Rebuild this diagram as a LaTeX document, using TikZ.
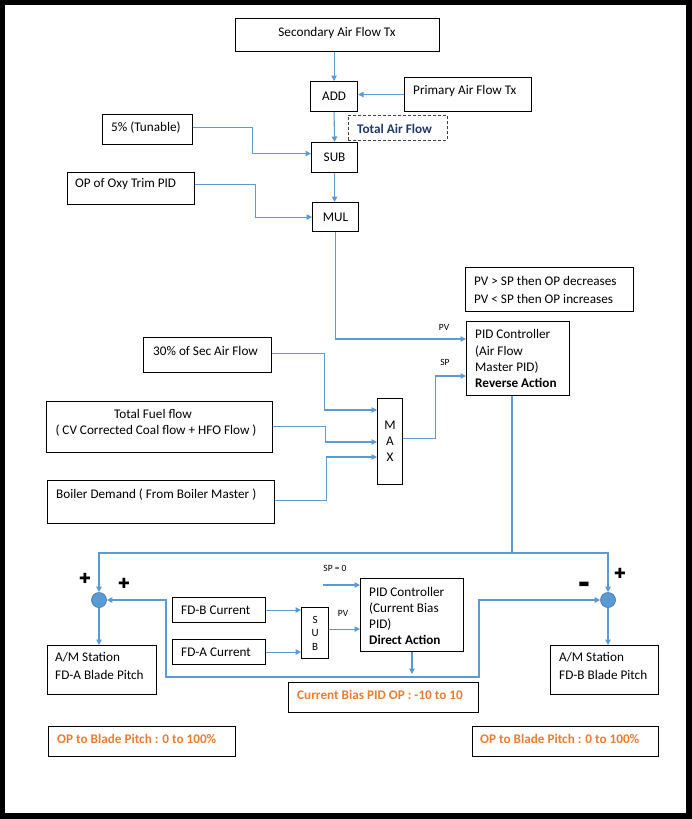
\documentclass[tikz,border=0pt]{standalone}
\usepackage{fontspec}
\setmainfont{Carlito}
\newfontfamily\symfont{DejaVu Sans}
\usetikzlibrary{arrows.meta,calc}
\definecolor{flow}{RGB}{91,155,213}
\definecolor{flowdark}{RGB}{65,113,156}
\definecolor{orng}{RGB}{237,125,49}
\definecolor{navy}{RGB}{32,56,100}
\begin{document}
\begin{tikzpicture}[x=1pt,y=-1pt,
  box/.style={draw=black, line width=1.1pt, rectangle, inner sep=0pt, anchor=north west, font=\fontsize{13.2}{16}\selectfont},
  txt/.style={inner sep=0pt, font=\fontsize{13.2}{16}\selectfont, anchor=base west},
  btxt/.style={txt, font=\fontsize{13.2}{16}\selectfont\bfseries},
  otxt/.style={btxt, text=orng},
  small/.style={inner sep=0pt, font=\fontsize{9.5}{10}\selectfont},
  tip/.tip={Triangle[length=5.5pt,width=5.5pt]},
  wire/.style={draw=flow, line width=1.1pt},
  arr/.style={wire, -tip},
  sumj/.style={circle, fill=flow, draw=flowdark, line width=0.6pt, minimum size=15pt, inner sep=0pt},
  sign/.style={inner sep=0pt, font=\symfont\fontsize{14}{14}\selectfont},
]
% frame
\fill[black] (0,0) rectangle (692,819);
\fill[white] (5,5) rectangle (686,813);
\useasboundingbox (0,0) rectangle (692,819);

% ---------- top chain ----------
\node[box, minimum width=204pt, minimum height=33pt] (sec) at (235,18) {};
\node[txt, anchor=base] (sec-t) at (337,36) {Secondary Air Flow Tx};
\node[box, minimum width=47pt, minimum height=30pt] (add) at (310,81) {ADD};
\node[box, minimum width=127pt, minimum height=34pt] (pri) at (404,77) {};
\node[txt] (pri-t) at (413,94.5) {Primary Air Flow Tx};
\node[box, draw=black!75, line width=0.9pt, dash pattern=on 3pt off 2pt, minimum width=99pt, minimum height=25pt] (tot) at (348,115) {};
\node[btxt, text=navy] (tot-t) at (357,133.5) {Total Air Flow};
\node[box, minimum width=90pt, minimum height=30pt] (five) at (102,114) {};
\node[txt] (five-t) at (111,131.5) {5\% (Tunable)};
\node[box, minimum width=46pt, minimum height=30pt] (sub) at (311,142) {SUB};
\node[box, minimum width=127pt, minimum height=32pt] (oxy) at (67,172) {};
\node[txt] (oxy-t) at (75,187.5) {OP of Oxy Trim PID};
\node[box, minimum width=46pt, minimum height=29pt] (mul) at (312,202) {MUL};

% ---------- air flow master PID ----------
\node[box, minimum width=168pt, minimum height=44pt] (note) at (465,267) {};
\node[txt] (note-t1) at (474,285.5) {PV > SP then OP decreases};
\node[txt] (note-t2) at (474,303.5) {PV < SP then OP increases};
\node[box, minimum width=103pt, minimum height=74pt] (pidA) at (466,321) {};
\node[txt] (pidA-t1) at (475,338) {PID Controller};
\node[txt] (pidA-t2) at (475,355) {(Air Flow};
\node[txt] (pidA-t3) at (475,371) {Master PID)};
\node[btxt] (pidA-t4) at (475,387) {Reverse Action};
\node[small] (pvA) at (444,327) {PV};
\node[small] (spA) at (445,362) {SP};
\coordinate (pvin) at ($(pidA.north west)+(0,18)$);
\coordinate (spin) at ($(pidA.north west)+(0,55)$);

% ---------- MAX selector ----------
\node[box, minimum width=128pt, minimum height=35pt] (thirty) at (143,337) {};
\node[txt] (thirty-t) at (153,355) {30\% of Sec Air Flow};
\node[box, minimum width=226pt, minimum height=51pt] (fuel) at (46,401) {};
\node[txt, anchor=base] (fuel-t1) at (153,418) {Total Fuel flow};
\node[txt, anchor=base] (fuel-t2) at (156,434.5) {( CV Corrected Coal flow + HFO Flow )};
\node[box, minimum width=227pt, minimum height=43pt] (boiler) at (47,480) {};
\node[txt] (boiler-t) at (56,498) {Boiler Demand ( From Boiler Master )};
\node[box, minimum width=25pt, minimum height=86pt, align=center] (max) at (377,398) {M\\A\\X};
\coordinate (maxin1) at ($(max.north west)+(0,12)$);
\coordinate (maxin2) at ($(max.north west)+(0,44)$);
\coordinate (maxin3) at ($(max.north west)+(0,59)$);

% ---------- bottom section ----------
\node[sumj] (sumA) at (99,600) {};
\node[sumj] (sumB) at (608,600) {};
\node[sign] (plA1) at (85,578) {✚};
\node[sign] (plA2) at (124,583) {✚};
\node[sign, font=\symfont\fontsize{12}{12}\selectfont] (miB) at (584,585) {▬};
\node[sign] (plB) at (620,573) {✚};
\node[box, minimum width=109pt, minimum height=49pt] (amA) at (47,645) {};
\node[txt] (amA-t1) at (55,661.5) {A/M Station};
\node[txt] (amA-t2) at (55,679.5) {FD-A Blade Pitch};
\node[box, minimum width=108pt, minimum height=49pt] (amB) at (550,645) {};
\node[txt] (amB-t1) at (559,661.5) {A/M Station};
\node[txt] (amB-t2) at (559,679.5) {FD-B Blade Pitch};
\node[box, minimum width=93pt, minimum height=25pt] (fdb) at (172,597) {};
\node[txt] (fdb-t) at (181,614) {FD-B Current};
\node[box, minimum width=93pt, minimum height=25pt] (fda) at (172,639) {};
\node[txt] (fda-t) at (181,656.5) {FD-A Current};
\node[box, minimum width=27pt, minimum height=51pt, align=center, font=\fontsize{11}{13.5}\selectfont] (subB) at (301,607) {S\\U\\B};
\node[box, minimum width=103pt, minimum height=73pt] (pidB) at (360,578) {};
\node[txt] (pidB-t1) at (369,596.5) {PID Controller};
\node[txt] (pidB-t2) at (369,612.5) {(Current Bias};
\node[txt] (pidB-t3) at (369,628.5) {PID)};
\node[btxt] (pidB-t4) at (369,644.5) {Direct Action};
\node[small] (sp0-t) at (335,568) {SP = 0};
\node[small] (pvB) at (343,613) {PV};
\coordinate (sp0) at (323,585);
\coordinate (biasin) at (412,674);
\node[box, minimum width=190pt, minimum height=30pt] (bias) at (288,682) {};
\node[otxt] (bias-t) at (297,699.5) {Current Bias PID OP : -10 to 10};
\node[box, minimum width=187pt, minimum height=30pt] (opA) at (48,726) {};
\node[otxt] (opA-t) at (57,743.5) {OP to Blade Pitch : 0 to 100\%};
\node[box, minimum width=186pt, minimum height=30pt] (opB) at (472,726) {};
\node[otxt] (opB-t) at (480,743.5) {OP to Blade Pitch : 0 to 100\%};

% ---------- connectors ----------
\draw[arr] (add.north |- sec.south) -- (add.north);
\draw[arr] (pri.west) -- (pri.west -| add.east);
\draw[arr] (add.south) -- (sub.north);
\draw[arr] ($(five.east)+(0,-2)$) -- ++(59,0) |- ($(sub.west)+(0,-4)$);
\draw[arr] ($(oxy.east)+(0,-4)$) -- ++(60,0) |- (mul.west);
\draw[arr] (sub.south) -- (sub.south |- mul.north);
\draw[arr] (mul.south) |- (pvin);
\draw[arr] ($(max.east)+(0,-3)$) -- ++(32,0) |- (spin);
\draw[arr] ($(thirty.east)+(0,-2)$) -- ++(52,0) |- (maxin1);
\draw[arr] ($(fuel.east)+(0,-1)$) -- ++(52,0) |- (maxin2);
\draw[arr] ($(boiler.east)+(0,-2)$) -- ++(51,0) |- (maxin3);
\coordinate (split) at (512,553);
\draw[wire] (pidA.south -| split) -- (split);
\draw[arr] (split) -| (sumA.north);
\draw[arr] (split) -| (sumB.north);
\draw[arr] (sumA.south) -- (sumA.south |- amA.north);
\draw[arr] (sumB.south) -- (sumB.south |- amB.north);
\draw[arr] (fdb.east) -- (fdb.east -| subB.west);
\draw[arr] (fda.east) -- (fda.east -| subB.west);
\draw[arr] ($(subB.east)+(0,-4)$) -- ($(subB.east -| pidB.west)+(0,-4)$);
\draw[arr] (sp0) -- (sp0 -| pidB.west);
\draw[arr] (pidB.south -| biasin) -- (biasin);
\draw[wire, tip-tip] (sumA.east) -- (166,600) -- (166,677) -- (479,677) |- (sumB.west);
\end{tikzpicture}
\end{document}
